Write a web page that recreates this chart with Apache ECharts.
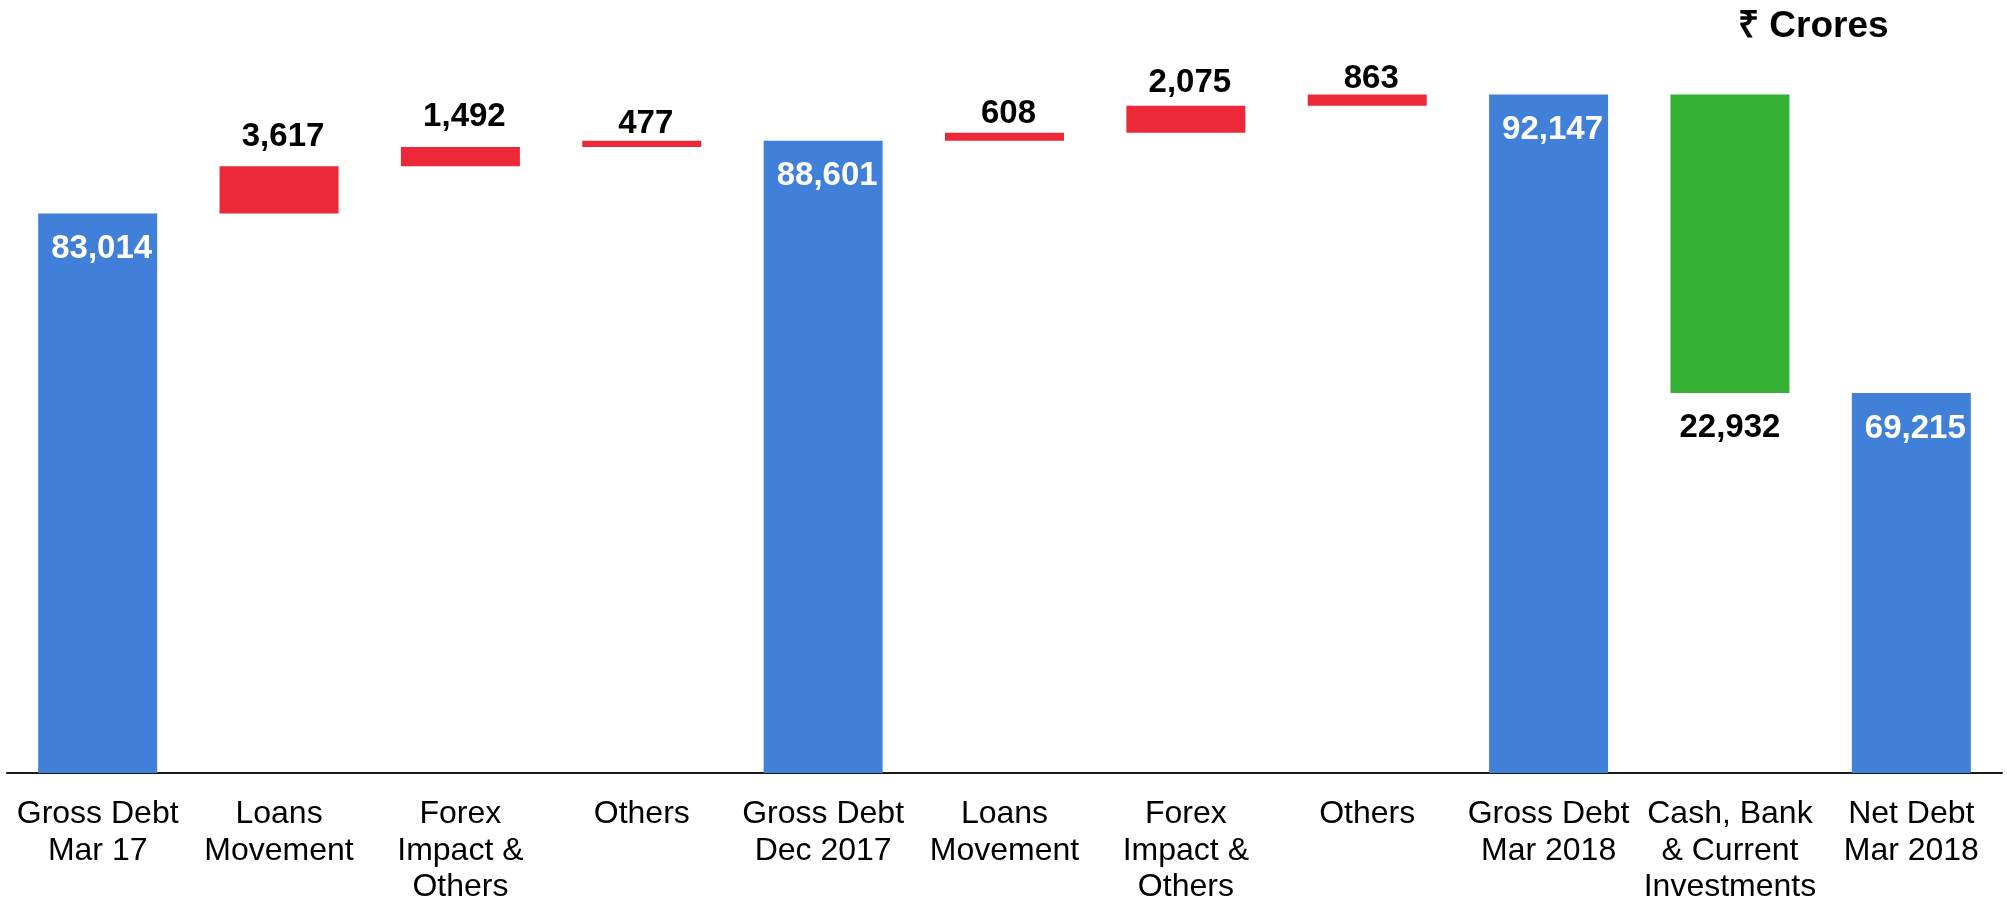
<!DOCTYPE html>
<html>
<head>
<meta charset="utf-8">
<title>Debt Movement</title>
<script src="https://cdn.jsdelivr.net/npm/echarts@6/dist/echarts.min.js"></script>
<style>
  html, body { margin: 0; padding: 0; background: #ffffff; }
  #chart { width: 2007px; height: 901px; }
</style>
</head>
<body>
<div id="chart"></div>
<script>
// Debt bridge, ₹ Crores
const categories = [
  'Gross Debt\nMar 17', 'Loans\nMovement', 'Forex\nImpact &\nOthers', 'Others',
  'Gross Debt\nDec 2017', 'Loans\nMovement', 'Forex\nImpact &\nOthers', 'Others',
  'Gross Debt\nMar 2018', 'Cash, Bank\n& Current\nInvestments', 'Net Debt\nMar 2018'
];
// closing balances (blue columns)
const debtTotals = [83014, null, null, null, 88601, null, null, null, 92147, null, 69215];
// additions to debt (red floating bars)
const increases = [null, 3617, 1492, 477, null, 608, 2075, 863, null, null, null];
// deduction from gross to net debt (green floating bar)
const reductions = [null, null, null, null, null, null, null, null, null, 22932, null];

const BLUE = '#4080D8';
const RED = '#ED2939';
const GREEN = '#35B235';
const FONT = '"Liberation Sans", Arial, Helvetica, sans-serif';

// gap between each red bar and its value label (hand-placed labels)
const increaseLabelGap = [0, 13, 14, 0, 0, 2, 6, -1, 0, 0, 0];

const fmt = v => v.toLocaleString('en-US');

// running level that each floating bar starts from
const baseValues = [];
const visible = [];
let level = 0;
for (let i = 0; i < categories.length; i++) {
  if (debtTotals[i] != null) {
    level = debtTotals[i];
    baseValues.push(0);
    visible.push({
      value: debtTotals[i],
      itemStyle: { color: BLUE },
      label: { show: true, position: 'insideTop', distance: 19, offset: [4, 0], color: '#ffffff', formatter: fmt(debtTotals[i]) }
    });
  } else if (increases[i] != null) {
    baseValues.push(level);
    level += increases[i];
    visible.push({
      value: increases[i],
      itemStyle: { color: RED },
      label: { show: true, position: 'top', distance: increaseLabelGap[i], offset: [4, 0], color: '#000000', formatter: fmt(increases[i]) }
    });
  } else if (reductions[i] != null) {
    level -= reductions[i];
    baseValues.push(level);
    visible.push({
      value: reductions[i],
      itemStyle: { color: GREEN },
      label: { show: true, position: 'bottom', distance: 18, color: '#000000', formatter: fmt(reductions[i]) }
    });
  }
}

const chart = echarts.init(document.getElementById('chart'), null, { renderer: 'canvas' });
chart.setOption({
  animation: false,
  backgroundColor: '#ffffff',
  graphic: [{
    type: 'text',
    x: 1738,
    y: 27,
    style: {
      text: '₹ Crores',
      font: 'bold 37px ' + FONT,
      fill: '#000000',
      align: 'left',
      verticalAlign: 'middle'
    }
  }],
  grid: { left: 7, right: 5, top: 57.5, bottom: 128, containLabel: false, outerBoundsMode: 'none' },
  xAxis: {
    type: 'category',
    data: categories,
    axisLine: { show: true, lineStyle: { color: '#1a1a1a', width: 2 } },
    axisTick: { show: false },
    axisLabel: {
      interval: 0,
      margin: 23,
      color: '#000000',
      fontFamily: FONT,
      fontSize: 32,
      lineHeight: 36.5,
      align: 'center',
      verticalAlign: 'top'
    }
  },
  yAxis: {
    type: 'value',
    min: 40000,
    max: 95000,
    show: false,
    splitLine: { show: false }
  },
  series: [
    {
      type: 'bar',
      stack: 'bridge',
      data: baseValues,
      barWidth: 119,
      itemStyle: { color: 'rgba(0,0,0,0)' },
      emphasis: { disabled: true },
      silent: true
    },
    {
      type: 'bar',
      stack: 'bridge',
      data: visible,
      barWidth: 119,
      label: {
        fontFamily: FONT,
        fontSize: 33,
        fontWeight: 'bold',
        lineHeight: 33
      }
    }
  ]
});
</script>
</body>
</html>
